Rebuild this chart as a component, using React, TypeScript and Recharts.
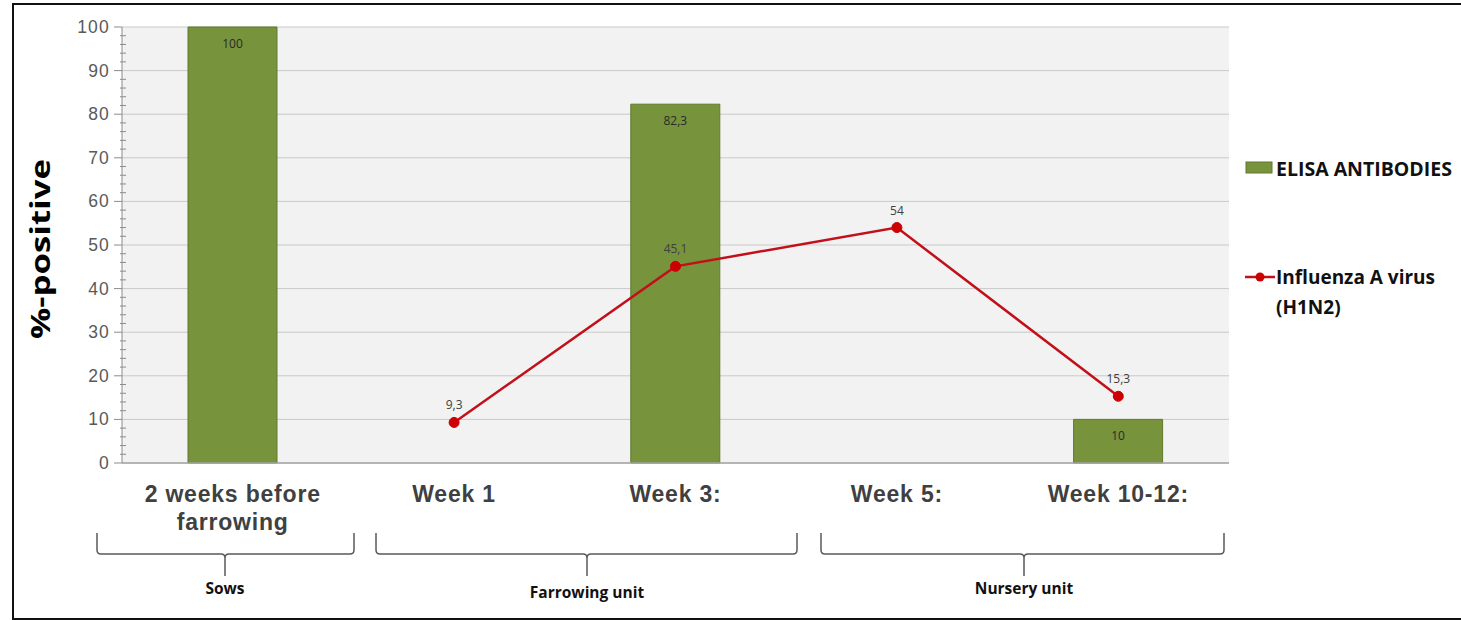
import React from 'react';
import { ComposedChart, Bar, Line, XAxis, YAxis, CartesianGrid, LabelList } from 'recharts';

// ---- data ----
const categories = ['2 weeks before\nfarrowing', 'Week 1', 'Week 3:', 'Week 5:', 'Week 10-12:'];
const elisaAntibodies: (number | null)[] = [100, null, 82.3, null, 10];
const influenzaA: (number | null)[] = [null, 9.3, 45.1, 54, 15.3];
const majorTicks = [0, 10, 20, 30, 40, 50, 60, 70, 80, 90, 100];
const allTicks = [
  0, 2, 4, 6, 8, 10, 12, 14, 16, 18, 20, 22, 24, 26, 28, 30, 32, 34, 36, 38, 40,
  42, 44, 46, 48, 50, 52, 54, 56, 58, 60, 62, 64, 66, 68, 70, 72, 74, 76, 78, 80,
  82, 84, 86, 88, 90, 92, 94, 96, 98, 100,
];
const groupLabels = ['Sows', 'Farrowing unit', 'Nursery unit'];
const seriesNames = ['ELISA ANTIBODIES', 'Influenza A virus', '(H1N2)'];

const data = categories.map((c, i) => ({
  name: c,
  elisa: elisaAntibodies[i],
  influenza: influenzaA[i],
}));

// ---- styles ----
const GREEN = '#77933c';
const GREEN_EDGE = '#5e7a2c';
const RED = '#c2101a';
const W = 1461;
const H = 620;

const fmt = (v: any) => (v == null ? '' : String(v).replace('.', ','));

const YTick = (props: any) => {
  const { x, y, payload } = props;
  const v = payload.value;
  const major = v % 10 === 0;
  if (major) {
    return (
      <g>
        <line x1={x - 8} x2={x} y1={y} y2={y} stroke="#8c8c8c" strokeWidth={1} />
        <text
          x={x - 12}
          y={y}
          textAnchor="end"
          dominantBaseline="central"
          fontFamily="'Liberation Sans', Arial, sans-serif"
          fontSize={17.5}
          letterSpacing={1.2}
          fill="#595959"
        >
          {v}
        </text>
      </g>
    );
  }
  return <line x1={x - 2} x2={x + 4} y1={y} y2={y} stroke="#8c8c8c" strokeWidth={1} />;
};

const XTick = (props: any) => {
  const { x, y, payload } = props;
  const lines = String(payload.value).split('\n');
  return (
    <g>
      {lines.map((l, i) => (
        <text
          key={i}
          x={x}
          y={y + 39 + i * 28}
          textAnchor="middle"
          fontFamily="'Liberation Sans', Arial, sans-serif"
          fontWeight="bold"
          fontSize={23}
          letterSpacing={0.8}
          fill="#404040"
        >
          {l}
        </text>
      ))}
    </g>
  );
};

const bracePath = (x1: number, x2: number, xc: number, top: number, mid: number, tip: number) => {
  const r = 4;
  return [
    `M ${x1} ${top}`,
    `L ${x1} ${mid - r}`,
    `Q ${x1} ${mid} ${x1 + r} ${mid}`,
    `L ${xc - r} ${mid}`,
    `Q ${xc} ${mid} ${xc} ${mid + r}`,
    `L ${xc} ${tip}`,
    `M ${xc} ${mid + r}`,
    `Q ${xc} ${mid} ${xc + r} ${mid}`,
    `L ${x2 - r} ${mid}`,
    `Q ${x2} ${mid} ${x2} ${mid - r}`,
    `L ${x2} ${top}`,
  ].join(' ');
};

// decoration geometry (braces under the axis)
const braces = [
  { x1: 97, x2: 354, xc: 225, ly: 588 },
  { x1: 376, x2: 797, xc: 587, ly: 592 },
  { x1: 821, x2: 1224, xc: 1024, ly: 588 },
];

export default function App() {
  return (
    <div style={{ position: 'absolute', left: 0, top: 0, width: W, height: H, overflow: 'hidden', background: '#fff' }}>
      <div
        style={{
          position: 'absolute',
          left: 12,
          top: 3,
          width: 1480,
          height: 617,
          border: '2px solid #111',
          boxSizing: 'border-box',
        }}
      />
      <div style={{ position: 'absolute', left: 0, top: 0 }}>
        <ComposedChart width={W} height={H} data={data} margin={{ top: 27, right: 232, bottom: 127, left: 62 }}>
          <CartesianGrid
            vertical={false}
            horizontalValues={majorTicks}
            stroke="#c9c9c9"
            strokeWidth={1}
            fill="#f2f2f2"
          />
          <XAxis
            dataKey="name"
            height={30}
            interval={0}
            tickLine={false}
            tickSize={0}
            tickMargin={0}
            axisLine={{ stroke: '#a6a6a6', strokeWidth: 1.5 }}
            tick={<XTick />}
          />
          <YAxis
            width={60}
            domain={[0, 100]}
            ticks={allTicks}
            interval={0}
            tickLine={false}
            tickSize={0}
            tickMargin={0}
            axisLine={{ stroke: '#8c8c8c', strokeWidth: 1 }}
            tick={<YTick />}
          />
          <Bar dataKey="elisa" barSize={89} fill={GREEN} stroke={GREEN_EDGE} strokeWidth={1} isAnimationActive={false}>
            <LabelList
              dataKey="elisa"
              position="insideTop"
              offset={12}
              formatter={fmt}
              fill="#2a2a2a"
              fontSize={12}
              fontFamily="'Open Sans', sans-serif"
            />
          </Bar>
          <Line
            type="linear"
            dataKey="influenza"
            stroke={RED}
            strokeWidth={2.5}
            dot={{ r: 5, fill: '#cc0000', stroke: '#cc0000', strokeWidth: 1 }}
            activeDot={false}
            isAnimationActive={false}
          >
            <LabelList
              dataKey="influenza"
              position="top"
              offset={13}
              formatter={fmt}
              fill="#404040"
              fontSize={12}
              fontFamily="'Open Sans', sans-serif"
            />
          </Line>
        </ComposedChart>
      </div>
      <svg width={W} height={H} style={{ position: 'absolute', left: 0, top: 0, pointerEvents: 'none' }}>
        {/* y axis title */}
        <text
          transform="translate(50,249) rotate(-90)"
          textAnchor="middle"
          fontFamily="'Open Sans', sans-serif"
          fontWeight="bold"
          fontSize={26}
          textLength={180}
          lengthAdjust="spacingAndGlyphs"
          fill="#000"
        >
          %-positive
        </text>
        {/* braces */}
        {braces.map((b, i) => (
          <g key={i}>
            <path d={bracePath(b.x1, b.x2, b.xc, 533, 554, 576)} fill="none" stroke="#595959" strokeWidth={1.5} />
            <text
              x={b.xc}
              y={b.ly}
              textAnchor="middle"
              dominantBaseline="central"
              fontFamily="'Open Sans', sans-serif"
              fontWeight="bold"
              fontSize={15.5}
              fill="#111"
            >
              {groupLabels[i]}
            </text>
          </g>
        ))}
        {/* legend */}
        <rect x={1246} y={162} width={26} height={11} fill={GREEN} stroke={GREEN_EDGE} strokeWidth={1} />
        <text x={1276} y={176} fontFamily="'Open Sans', sans-serif" fontWeight="bold" fontSize={19.5} fill="#111">
          {seriesNames[0]}
        </text>
        <line x1={1245} x2={1275} y1={277} y2={277} stroke={RED} strokeWidth={2.5} />
        <circle cx={1260} cy={277} r={4.5} fill="#cc0000" />
        <text x={1276} y={284} fontFamily="'Open Sans', sans-serif" fontWeight="bold" fontSize={19} fill="#111">
          {seriesNames[1]}
        </text>
        <text x={1276} y={314} fontFamily="'Open Sans', sans-serif" fontWeight="bold" fontSize={19} fill="#111">
          {seriesNames[2]}
        </text>
      </svg>
    </div>
  );
}
